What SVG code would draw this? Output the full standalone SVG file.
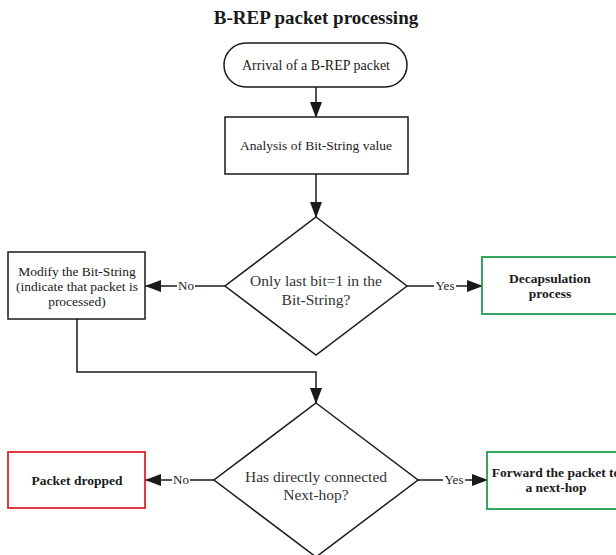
<svg xmlns="http://www.w3.org/2000/svg" width="616" height="555" viewBox="0 0 616 555">
  <defs>
    <marker id="arrow" markerUnits="userSpaceOnUse" markerWidth="16" markerHeight="12" refX="15" refY="6" orient="auto">
      <path d="M0,0 L16,6 L0,12 z" fill="#1a1a1a"/>
    </marker>
    <style>
      .shape { fill: #ffffff; stroke: #1a1a1a; stroke-width: 1.5; }
      .ok { fill: #ffffff; stroke: #1f9d4f; stroke-width: 1.8; }
      .bad { fill: #ffffff; stroke: #e0242c; stroke-width: 1.8; }
      .edge { fill: none; stroke: #1a1a1a; stroke-width: 1.5; }
      .txt { font-family: "Liberation Serif", "Times New Roman", serif; fill: #1a1a1a; text-anchor: middle; }
      .dec { font-family: "Liberation Serif", "Times New Roman", serif; fill: #333333; text-anchor: middle; font-size: 15.5px; }
      .bold { font-weight: bold; font-size: 13.5px; }
      .lbl { font-family: "Liberation Serif", "Times New Roman", serif; fill: #1a1a1a; font-size: 13px; text-anchor: middle; }
    </style>
  </defs>

  <text class="txt" x="316" y="24" font-size="19" font-weight="bold">B-REP packet processing</text>

  <!-- connectors -->
  <g id="connectors">
    <line class="edge" x1="316" y1="87" x2="316" y2="117" marker-end="url(#arrow)"/>
    <line class="edge" x1="316" y1="174" x2="316" y2="217" marker-end="url(#arrow)"/>
    <!-- decision 1: No -->
    <line class="edge" x1="225" y1="286" x2="195" y2="286"/>
    <text class="lbl" x="186" y="290">No</text>
    <line class="edge" x1="177" y1="286" x2="146" y2="286" marker-end="url(#arrow)"/>
    <!-- decision 1: Yes -->
    <line class="edge" x1="407" y1="286" x2="434" y2="286"/>
    <text class="lbl" x="445" y="290">Yes</text>
    <line class="edge" x1="456" y1="286" x2="482" y2="286" marker-end="url(#arrow)"/>
    <!-- loop back to decision 2 -->
    <polyline class="edge" points="77,319 77,372 316,372 316,403" marker-end="url(#arrow)"/>
    <!-- decision 2: No -->
    <line class="edge" x1="214" y1="480" x2="190" y2="480"/>
    <text class="lbl" x="181" y="484">No</text>
    <line class="edge" x1="172" y1="480" x2="146" y2="480" marker-end="url(#arrow)"/>
    <!-- decision 2: Yes -->
    <line class="edge" x1="418" y1="480" x2="443" y2="480"/>
    <text class="lbl" x="454" y="484">Yes</text>
    <line class="edge" x1="465" y1="480" x2="487" y2="480" marker-end="url(#arrow)"/>
  </g>

  <g id="arrival">
    <rect class="shape" x="224" y="43" width="183" height="44" rx="22" ry="22"/>
    <text class="txt" x="316" y="70" font-size="14">Arrival of a B-REP packet</text>
  </g>

  <g id="analysis">
    <rect class="shape" x="225" y="117" width="183" height="57"/>
    <text class="txt" x="316" y="150" font-size="13.5">Analysis of Bit-String value</text>
  </g>

  <g id="check-last-bit">
    <polygon class="shape" points="316,217 407,286 316,355 225,286"/>
    <text class="dec" x="316" y="286">Only last bit=1 in the</text>
    <text class="dec" x="316" y="305">Bit-String?</text>
  </g>

  <g id="modify">
    <rect class="shape" x="8" y="252" width="137" height="67"/>
    <text class="txt" x="77" y="276" font-size="13.5">Modify the Bit-String</text>
    <text class="txt" x="77" y="291" font-size="13.5">(indicate that packet is</text>
    <text class="txt" x="77" y="306" font-size="13.5">processed)</text>
  </g>

  <g id="decapsulation">
    <rect class="ok" x="482" y="257" width="138" height="57"/>
    <text class="txt bold" x="550" y="283">Decapsulation</text>
    <text class="txt bold" x="550" y="298">process</text>
  </g>

  <g id="check-next-hop">
    <polygon class="shape" points="316,403 418,480 316,557 214,480"/>
    <text class="dec" x="316" y="482">Has directly connected</text>
    <text class="dec" x="316" y="500">Next-hop?</text>
  </g>

  <g id="dropped">
    <rect class="bad" x="8" y="452" width="137" height="56"/>
    <text class="txt bold" x="77" y="485">Packet dropped</text>
  </g>

  <g id="forward">
    <rect class="ok" x="487" y="452" width="140" height="57"/>
    <text class="txt bold" x="556" y="477">Forward the packet to</text>
    <text class="txt bold" x="556" y="492">a next-hop</text>
  </g>
</svg>
